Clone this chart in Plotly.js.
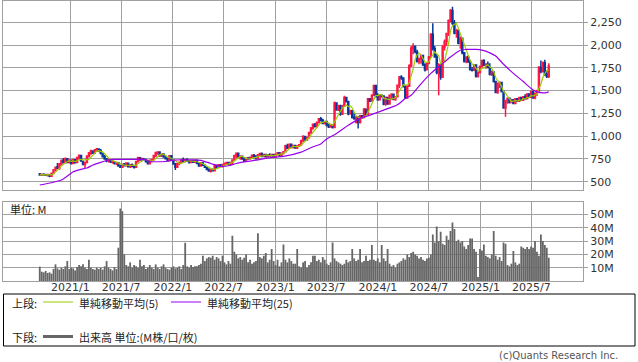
<!DOCTYPE html>
<html><head><meta charset="utf-8">
<script src="https://cdn.plot.ly/plotly-3.0.1.min.js"></script>
<style>html,body{margin:0;padding:0;background:#fff}#chart{width:638px;height:362px}</style>
</head><body><div id="chart"></div>
<script>
// Weekly bars, first week starting on this Monday
const startWeek = '2020-09-14';

const opens = [585,572,580,575,568,576,560,590,628,665,
648,690,735,710,752,710,736,700,740,710,
765,788,722,688,712,778,812,835,815,848,
858,842,810,775,748,728,742,715,720,700,
708,672,660,692,676,702,665,686,668,660,
718,762,738,752,745,720,698,732,742,785,
818,825,784,805,772,752,730,785,740,695,
660,700,714,738,725,745,728,712,732,715,
735,700,672,708,680,658,635,618,632,620,
680,655,685,668,690,702,712,690,712,738,
788,812,770,780,748,725,758,748,768,790,
765,752,795,810,778,800,775,795,782,798,
772,800,818,788,812,828,895,870,910,875,
898,870,892,905,950,995,958,982,1040,1090,
1130,1105,1150,1190,1175,1140,1162,1118,1100,1125,
1095,1365,1290,1335,1240,1330,1425,1380,1245,1280,
1205,1152,1210,1150,1225,1205,1295,1240,1410,1385,
1450,1555,1435,1400,1450,1440,1350,1425,1352,1448,
1460,1402,1432,1558,1650,1640,1545,1420,1550,1770,
1960,1985,1925,1820,1850,1885,1785,1730,1800,1870,
2120,1960,1870,1690,1780,1650,1980,2040,2127,2270,
2380,2240,2130,2160,2020,2075,1915,1820,1868,1815,
1730,1725,1780,1655,1700,1765,1830,1780,1790,1755,
1680,1705,1600,1480,1580,1590,1490,1310,1390,1415,
1370,1400,1358,1412,1382,1425,1395,1432,1410,1462,
1428,1490,1420,1470,1495,1755,1710,1805,1680,1655];

const highs = [595,590,592,588,585,582,600,640,668,705,
705,745,760,765,758,745,745,750,748,770,
800,795,728,720,790,826,850,845,860,870,
868,858,818,792,760,752,750,735,728,718,
715,690,700,705,712,708,690,700,680,730,
775,770,762,760,750,728,740,748,795,830,
835,828,812,810,790,772,792,790,745,705,
712,720,745,765,752,758,738,740,738,742,
742,712,716,712,690,668,648,640,645,690,
688,692,692,698,710,718,720,718,745,795,
820,818,790,785,770,765,772,775,795,805,
792,800,815,820,805,808,800,812,802,805,
805,825,822,818,835,905,918,920,915,905,
902,900,915,960,1010,1000,990,1048,1100,1140,
1145,1160,1200,1210,1192,1170,1168,1140,1135,1130,
1380,1372,1345,1345,1345,1445,1432,1385,1290,1288,
1250,1218,1215,1235,1232,1310,1300,1420,1420,1460,
1565,1562,1470,1460,1460,1448,1435,1430,1455,1470,
1462,1440,1565,1660,1668,1648,1555,1560,1790,1990,
2020,1995,1950,1860,1895,1890,1800,1810,1880,2130,
2240,1990,1900,1800,1790,2000,2060,2135,2280,2395,
2420,2275,2180,2165,2095,2080,1925,1875,1885,1838,
1760,1790,1785,1710,1775,1840,1845,1800,1820,1800,
1720,1712,1605,1590,1600,1595,1495,1400,1425,1420,
1410,1405,1420,1418,1430,1430,1440,1460,1470,1470,
1500,1495,1480,1510,1770,1830,1820,1840,1720,1800];

const lows = [570,565,568,562,558,550,552,582,615,640,
630,680,700,705,705,700,690,692,700,705,
740,720,680,650,705,765,790,805,808,825,
830,800,765,740,715,712,705,698,690,680,
665,650,655,668,670,658,650,660,645,655,
710,730,725,735,712,690,692,715,738,770,
795,775,770,765,745,722,725,735,688,628,
650,682,705,718,712,722,700,705,708,710,
695,665,668,672,650,628,610,600,612,615,
648,650,660,655,672,685,685,682,695,730,
760,762,742,740,718,720,742,740,760,758,
745,748,778,772,770,770,768,778,775,768,
765,790,780,782,800,822,860,862,868,865,
862,860,880,895,935,950,950,975,1025,1070,
1095,1095,1140,1160,1130,1128,1110,1090,1092,1085,
1090,1280,1275,1225,1232,1320,1370,1230,1235,1195,
1180,1140,1085,1140,1190,1198,1228,1235,1375,1378,
1440,1425,1390,1392,1425,1340,1335,1345,1345,1400,
1395,1390,1425,1530,1620,1535,1410,1415,1540,1760,
1900,1910,1810,1790,1795,1770,1710,1720,1790,1860,
1940,1860,1680,1450,1620,1640,1940,1990,2100,2250,
2220,2120,2080,2010,1960,1900,1810,1800,1805,1720,
1710,1718,1645,1645,1692,1755,1770,1740,1745,1665,
1660,1590,1470,1465,1530,1480,1300,1213,1355,1360,
1362,1350,1350,1375,1375,1385,1388,1400,1402,1420,
1420,1410,1405,1440,1485,1690,1700,1660,1640,1640];

const closes = [575,582,574,570,578,560,592,630,660,650,
698,735,712,755,712,738,700,742,708,765,
790,728,690,712,780,815,838,815,850,860,
840,812,775,748,728,745,715,722,700,710,
672,660,692,675,705,665,685,668,655,720,
765,740,755,745,720,698,735,742,788,820,
825,785,805,772,752,730,785,742,695,660,
700,715,738,725,745,728,712,732,715,735,
700,672,708,680,658,635,618,632,620,680,
655,685,668,690,702,712,690,712,738,788,
812,770,780,748,725,758,748,768,790,765,
752,795,810,778,800,775,795,782,798,772,
800,818,788,812,828,895,870,910,875,898,
870,892,905,950,995,958,982,1040,1090,1130,
1105,1150,1190,1175,1140,1162,1118,1100,1125,1095,
1365,1290,1335,1240,1330,1425,1380,1245,1280,1205,
1190,1210,1150,1225,1200,1295,1240,1410,1385,1450,
1555,1435,1400,1450,1440,1350,1425,1352,1448,1460,
1402,1432,1558,1650,1640,1545,1420,1550,1770,1965,
1985,1925,1820,1850,1885,1785,1730,1800,1870,2120,
1960,1870,1700,1780,1650,1980,2040,2127,2270,2380,
2240,2130,2160,2020,2075,1915,1820,1868,1815,1730,
1725,1780,1655,1700,1765,1830,1780,1790,1755,1680,
1705,1600,1480,1580,1590,1490,1310,1390,1415,1370,
1400,1358,1412,1382,1425,1395,1432,1410,1462,1428,
1490,1420,1470,1495,1755,1710,1805,1680,1655,1770];

// Volume in millions of shares
const volumes = [10.8,7.0,6.5,7.5,6.0,6.5,5.5,9.0,12.5,9.5,
8.5,10,9,11,15,9,10,9.5,8,10.5,
12,11,12.5,10,9,16,10,9,8.5,10,
9,10,8.5,11,15,10,9,8,10.5,9,
25,54.5,52.5,20,12,11,14,10,12,11,
10,16,11,12,9,10,12,10,9,12.5,
10,9,11,12.5,10,9,8.5,10,11,9.5,
10,11,9,12,28.8,11,10,12,10.5,11,
11,12,13,19,15,17,18,17.5,19,16,
18,17,15,19,14,12.5,15,13,34,22,
20,17,18,16,17.5,20,14,16,13,14,
15,35.8,18,17,19,21,14,16,24,15,
12,16,11,14,27.5,16,14,17,15,13,
13,24,11,10,14,15,10,12,14,19,
19,15,16,14,18,16,13,12,14,29,
17,15,14,13,12,13,16,14,15,24,
17,15,16,24,14,15,19,15,16,27,
16,15,17,14,27,17,15,24,13,11,
12,10,13,14,15,17,16,20,18,21,
22,20,19,17,18,16,15,17,17.5,20,
35,29,41,30,37,28,27,34,31,37.5,
44,39,30,31,29,30,26,24,27,32,
32,24,22,3,24,23,27.5,19,18,17,
20,37.5,19,16,18,15,29,28,12,11,
13,22.5,14,12,13,26,25,24,25.5,24,
26,25,30,22,19,35,30,27,25,17.5];

// 25-week moving average (week index -> value)
const ma25Idx = [0,6,11,14,17,21,24,27,31,35,38,46,54,56,64,68,77,82,87,91,96,100,105,111,115,120,124,133,139,143,146,151,157,163,168,175,182,186,189,194,199,204,209,214,217,222,225,229,232,236,241,246,250,253,257,259];
const ma25Val = [464,489,519,562,610,636,650,683,713,738,745,745,742,722,722,738,740,735,700,672,675,700,720,740,757,770,778,825,884,915,970,1030,1120,1195,1231,1286,1345,1414,1450,1575,1689,1780,1870,1944,1952,1952,1944,1915,1880,1790,1689,1600,1524,1487,1476,1487];

const priceTicks = [500,750,1000,1250,1500,1750,2000,2250];
const volTicks = [10,20,30,40,50];
const volTickText = ['10M','20M','30M','40M','50M'];
const dateTicks = ['2021-01-01','2021-07-01','2022-01-01','2022-07-01','2023-01-01','2023-07-01','2024-01-01','2024-07-01','2025-01-01','2025-07-01'];
const dateTickText = ['2021/1','2021/7','2022/1','2022/7','2023/1','2023/7','2024/1','2024/7','2025/1','2025/7'];

const legendTop = '上段:';
const legendBottom = '下段:';
const ma5Name = '単純移動平均(5)';
const ma25Name = '単純移動平均(25)';
const volName = '出来高 単位:(M株/口/枚)';
const unitLabel = '単位: M';
const credit = '(c)Quants Research Inc.';

function weekDates(start, n) {
  const p = start.split('-').map(Number);
  const t0 = Date.UTC(p[0], p[1]-1, p[2]);
  const out = [];
  for (let i = 0; i < n; i++) {
    const d = new Date(t0 + i*7*86400000);
    out.push(d.toISOString().slice(0,10));
  }
  return out;
}
const dates = weekDates(startWeek, closes.length);
const ma5 = closes.map((c, i) => {
  const s = closes.slice(Math.max(0, i-4), i+1);
  return s.reduce((a, b) => a + b, 0) / s.length;
});
const ma25Dates = ma25Idx.map(i => dates[i]);

const RED = '#ff1744', BLUE = '#08379a', GRID = '#a0a0a0';
const MA5C = '#99cc00', MA25C = '#9900ee';
const TICKFONT = {family: 'DejaVu Sans, sans-serif', size: 11, color: '#333'};
const CJK = 'Noto Sans CJK JP, sans-serif';

const traces = [
  {type: 'candlestick', x: dates, open: opens, high: highs, low: lows, close: closes,
   xaxis: 'x', yaxis: 'y', whiskerwidth: 0,
   increasing: {line: {color: RED, width: 1.5}, fillcolor: RED},
   decreasing: {line: {color: BLUE, width: 1.5}, fillcolor: BLUE},
   hoverinfo: 'skip'},
  {type: 'scatter', mode: 'lines', x: dates, y: ma5, xaxis: 'x', yaxis: 'y',
   line: {color: MA5C, width: 1.2}, hoverinfo: 'skip'},
  {type: 'scatter', mode: 'lines', x: ma25Dates, y: ma25Val, xaxis: 'x', yaxis: 'y',
   line: {color: MA25C, width: 1.2, shape: 'spline', smoothing: 0.6}, hoverinfo: 'skip'},
  {type: 'bar', x: dates, y: volumes, xaxis: 'x2', yaxis: 'y2',
   marker: {color: '#666666', line: {width: 0}}, hoverinfo: 'skip'}
];

// pixel helpers for paper coordinates (plot area x:3..583, y:1..281)
const PX = X => (X - 3) / 580;
const PY = Y => (281 - Y) / 280;

const axisCommon = {
  showgrid: true, gridcolor: GRID, gridwidth: 1, zeroline: false,
  showline: true, mirror: true, linecolor: GRID, linewidth: 1
};

const layout = {
  width: 638, height: 362,
  margin: {l: 3, r: 55, t: 1, b: 81, pad: 0},
  paper_bgcolor: '#fff', plot_bgcolor: '#fff',
  showlegend: false, hovermode: false, bargap: 0.08,
  xaxis: Object.assign({}, axisCommon, {
    type: 'date', range: ['2020-05-06', '2026-01-01'], domain: [0, 1], anchor: 'y',
    tickvals: dateTicks, showticklabels: false, ticks: '',
    rangeslider: {visible: false}
  }),
  xaxis2: Object.assign({}, axisCommon, {
    type: 'date', range: ['2020-05-06', '2026-01-01'], domain: [0, 1], anchor: 'y2',
    tickvals: dateTicks, ticktext: dateTickText, ticks: '', ticklabelstandoff: -4,
    tickfont: TICKFONT, rangeslider: {visible: false}
  }),
  yaxis: Object.assign({}, axisCommon, {
    domain: [PY(190), 1], range: [409, 2484], side: 'right', anchor: 'x',
    tickvals: priceTicks, tickformat: ',d', ticks: 'outside', ticklen: 4, tickcolor: GRID,
    tickfont: TICKFONT
  }),
  yaxis2: Object.assign({}, axisCommon, {
    domain: [0, PY(201.7)], range: [0, 59.6], side: 'right', anchor: 'x2',
    tickvals: volTicks, ticktext: volTickText, ticks: 'outside', ticklen: 4, tickcolor: GRID,
    tickfont: TICKFONT
  }),
  shapes: [
    {type: 'rect', xref: 'paper', yref: 'paper', x0: PX(3.5), x1: PX(635), y0: PY(346), y1: PY(294),
     line: {color: '#000', width: 1}, fillcolor: 'rgba(0,0,0,0)'},
    {type: 'line', xref: 'paper', yref: 'paper', x0: PX(43), x1: PX(73), y0: PY(302), y1: PY(302),
     line: {color: MA5C, width: 1}},
    {type: 'line', xref: 'paper', yref: 'paper', x0: PX(171), x1: PX(201), y0: PY(302), y1: PY(302),
     line: {color: MA25C, width: 1}},
    {type: 'line', xref: 'paper', yref: 'paper', x0: PX(43), x1: PX(73), y0: PY(336.5), y1: PY(336.5),
     line: {color: '#666666', width: 3}}
  ],
  annotations: [
    {xref: 'paper', yref: 'paper', x: PX(8), y: PY(209), text: unitLabel, showarrow: false,
     xanchor: 'left', yanchor: 'middle', font: {family: CJK, size: 11, color: '#222'}},
    {xref: 'paper', yref: 'paper', x: PX(11), y: PY(302.5), text: legendTop, showarrow: false,
     xanchor: 'left', yanchor: 'middle', borderpad: 0, font: {family: CJK, size: 11, color: '#222'}},
    {xref: 'paper', yref: 'paper', x: PX(78), y: PY(302.5), text: ma5Name, showarrow: false,
     xanchor: 'left', yanchor: 'middle', borderpad: 0, font: {family: CJK, size: 11, color: '#222'}},
    {xref: 'paper', yref: 'paper', x: PX(206), y: PY(302.5), text: ma25Name, showarrow: false,
     xanchor: 'left', yanchor: 'middle', borderpad: 0, font: {family: CJK, size: 11, color: '#222'}},
    {xref: 'paper', yref: 'paper', x: PX(11), y: PY(336.5), text: legendBottom, showarrow: false,
     xanchor: 'left', yanchor: 'middle', borderpad: 0, font: {family: CJK, size: 11, color: '#222'}},
    {xref: 'paper', yref: 'paper', x: PX(78), y: PY(336.5), text: volName, showarrow: false,
     xanchor: 'left', yanchor: 'middle', borderpad: 0, font: {family: CJK, size: 11, color: '#222'}},
    {xref: 'paper', yref: 'paper', x: PX(620), y: PY(355.5), text: credit, showarrow: false,
     xanchor: 'right', yanchor: 'middle', font: {family: 'DejaVu Sans, sans-serif', size: 10, color: '#555'}}
  ]
};

Plotly.newPlot('chart', traces, layout, {staticPlot: true, displayModeBar: false});
</script>
</body></html>
